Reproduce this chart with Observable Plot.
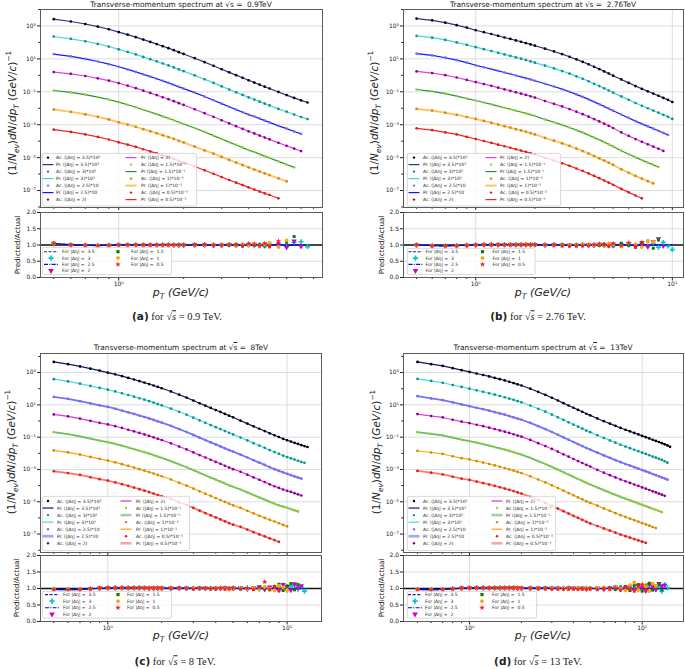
<!DOCTYPE html>
<html>
<head>
<meta charset="utf-8">
<script src="https://cdn.jsdelivr.net/npm/d3@7"></script>
<script src="https://cdn.jsdelivr.net/npm/@observablehq/plot@0.6"></script>
<style>
html,body{margin:0;padding:0;background:#fff;}
#root{position:relative;width:685px;height:669px;overflow:hidden;background:#fff;font-family:"DejaVu Sans",sans-serif;color:#222;}
.t{position:absolute;white-space:nowrap;line-height:1;}
.title{font-size:7.4px;transform:translate(-50%,0);}
.ylab{font-size:10.5px;transform:translate(-50%,-50%) rotate(-90deg);}
.rylab{font-size:7.2px;transform:translate(-50%,-50%) rotate(-90deg);}
.xlab{font-size:11px;transform:translate(-50%,-50%);font-style:italic;}
.cap{font-size:10.5px;transform:translate(-50%,-50%);font-family:"Liberation Serif","DejaVu Serif",serif;}
.cap b{font-family:"DejaVu Sans",sans-serif;font-weight:bold;}
.ov{text-decoration:overline;}
sub,sup{font-size:70%;line-height:0;}
</style>
</head>
<body>
<div id="root"></div>
<script>
// ---------- data (log10 of 1/Nev dN/dpT) ----------
const pT = [0.5,0.6,0.7,0.8,0.9,1.0,1.1,1.2,1.3,1.4,1.5,1.6,1.7,1.8,1.9,2.0,2.25,2.5,2.75,3.0,3.25,3.5,3.75,4.0,4.25,4.5,4.75,5.0,5.5,6.0,6.5,7.0,7.5,8.0,8.5,9.0,9.5,10,10.5,11,11.5,12,12.5,13,13.5,14,14.5];
const etaValues = ["3.5","3","2.5","2","1.5","1","0.5"];
const energies = ["0.9","2.76","8","13"];
const panelIds = ["a","b","c","d"];
const mainYTicks = [1e-7,1e-5,1e-3,1e-1,1e1,1e3];
const mainYMinor = [1e-8,1e-6,1e-4,1e-2,1e0,1e2,1e4];
const ratioTicks = [0,0.5,1,1.5,2];
const ratioRef = [1];
const acLabels = ["Ac. (|Δη| = 3.5)*10³","Ac. (|Δη| = 3)*10²","Ac. (|Δη| = 2.5)*10","Ac. (|Δη| = 2)","Ac (|Δη| = 1.5)*10⁻¹","Ac. (|Δη| = 1)*10⁻²","Ac. (|Δη| = 0.5)*10⁻³"];
const prLabels = ["Pr. (|Δη| = 3.5)*10³","Pr. (|Δη| = 3)*10²","Pr. (|Δη| = 2.5)*10","Pr. (|Δη| = 2)","Pr (|Δη| = 1.5)*10⁻¹","Pr. (|Δη| = 1)*10⁻²","Pr. (|Δη| = 0.5)*10⁻³"];
const ratioLabels = ["For |Δη| =  3.5","For |Δη| =  3","For |Δη| =  2.5","For |Δη| =  2","For |Δη| =  1.5","For |Δη| =  1","For |Δη| =  0.5"];

// panel (a) 0.9 TeV
const a_s35 = [3.41,3.27,3.12,2.96,2.80,2.63,2.47,2.32,2.17,2.03,1.90,1.77,1.65,1.53,1.41,1.30,1.04,0.80,0.58,0.37,0.18,0.01,-0.15,-0.30,-0.44,-0.57,-0.69,-0.80,-1.01,-1.20,-1.37,-1.52,-1.65];
const a_s3 = [2.36,2.22,2.07,1.91,1.75,1.58,1.42,1.27,1.12,0.98,0.85,0.72,0.60,0.48,0.36,0.25,0.00,-0.24,-0.46,-0.67,-0.86,-1.03,-1.19,-1.34,-1.47,-1.60,-1.72,-1.83,-2.04,-2.21,-2.38,-2.53,-2.66];
const a_s25 = [1.29,1.15,1.00,0.84,0.68,0.52,0.36,0.21,0.06,-0.08,-0.21,-0.34,-0.46,-0.58,-0.70,-0.81,-1.05,-1.29,-1.51,-1.72,-1.91,-2.08,-2.24,-2.39,-2.50,-2.63,-2.75,-2.86,-3.07,-3.24,-3.41,-3.56];
const a_s2 = [0.20,0.09,-0.04,-0.18,-0.32,-0.47,-0.63,-0.78,-0.93,-1.07,-1.20,-1.33,-1.45,-1.57,-1.69,-1.80,-2.06,-2.30,-2.52,-2.73,-2.92,-3.09,-3.25,-3.40,-3.53,-3.66,-3.78,-3.89,-4.10,-4.28,-4.45,-4.60];
const a_s15 = [-0.92,-1.04,-1.17,-1.32,-1.47,-1.63,-1.79,-1.94,-2.09,-2.23,-2.36,-2.49,-2.61,-2.73,-2.85,-2.96,-3.20,-3.44,-3.66,-3.87,-4.06,-4.23,-4.39,-4.54,-4.66,-4.79,-4.91,-5.02,-5.23,-5.42,-5.59];
const a_s1 = [-2.08,-2.22,-2.37,-2.52,-2.68,-2.85,-2.99,-3.13,-3.27,-3.40,-3.52,-3.64,-3.75,-3.86,-3.98,-4.08,-4.33,-4.56,-4.76,-4.96,-5.14,-5.30,-5.45,-5.59,-5.72,-5.85,-5.96,-6.06,-6.26,-6.44];
const a_s05 = [-3.30,-3.44,-3.59,-3.74,-3.90,-4.07,-4.21,-4.35,-4.49,-4.62,-4.74,-4.86,-4.97,-5.08,-5.19,-5.29,-5.54,-5.77,-5.98,-6.18,-6.36,-6.52,-6.67,-6.81,-6.94,-7.06,-7.17,-7.27,-7.47];
const a_r35 = [1.05,1.01,0.99,0.99,0.99,1.00,1.00,1.00,1.00,1.00,1.00,1.00,1.00,1.00,1.00,1.00,1.01,1.00,1.00,0.99,1.00,1.01,1.00,0.99,1.00,1.01,0.99,1.00,1.02,0.98,1.01,0.99,1.00];
const a_r3 = [1.04,1.00,0.99,0.98,0.99,1.00,1.00,1.01,1.00,1.00,1.00,1.00,1.00,1.00,1.00,1.00,1.00,1.01,0.99,1.00,1.01,0.99,1.00,1.02,0.98,1.01,0.97,1.03,0.99,0.96,1.08,1.10,0.95];
const a_r25 = [1.05,1.01,0.99,0.98,0.99,1.00,1.00,1.00,1.00,1.00,1.00,1.00,1.00,1.00,1.00,1.00,1.00,1.00,1.00,1.00,1.00,1.00,1.00,1.00,1.00,1.01,0.99,1.00,1.01,0.99,1.00,1.00];
const a_r2 = [1.05,1.00,0.99,0.98,0.99,1.00,1.00,1.00,1.00,1.00,1.00,1.00,1.00,1.00,1.00,1.00,1.01,1.00,0.99,1.00,1.01,1.00,0.99,1.01,1.02,0.98,1.03,0.97,1.04,0.93,1.12,0.96];
const a_r15 = [1.05,1.00,0.99,0.98,0.99,1.00,1.00,1.00,1.00,1.00,1.00,1.00,1.01,1.00,1.00,1.00,0.99,1.00,1.01,1.00,0.99,1.02,1.00,0.98,1.03,1.01,0.97,1.05,0.95,1.08,1.26];
const a_r1 = [1.05,1.00,0.99,0.98,0.99,1.00,1.00,1.00,1.00,1.00,1.00,1.00,1.00,1.00,1.00,1.01,1.00,0.99,1.01,1.00,1.02,0.98,1.03,0.99,1.04,0.97,1.02,1.06,0.94,1.14];
const a_r05 = [1.05,1.00,0.99,0.98,0.99,1.00,1.00,1.00,1.00,1.00,1.00,1.00,1.00,1.00,1.00,1.00,1.00,1.01,1.00,0.99,1.02,1.00,0.98,1.04,1.01,0.97,1.05,0.96,1.12];

// panel (b) 2.76 TeV
const b_s35 = [3.45,3.34,3.20,3.05,2.90,2.74,2.62,2.51,2.40,2.30,2.21,2.12,2.04,1.96,1.88,1.80,1.62,1.45,1.29,1.13,0.97,0.82,0.67,0.52,0.38,0.24,0.11,-0.02,-0.25,-0.46,-0.65,-0.82,-0.97,-1.11,-1.24,-1.37,-1.49,-1.62];
const b_s3 = [2.40,2.29,2.15,2.00,1.85,1.71,1.59,1.48,1.37,1.27,1.18,1.09,1.01,0.93,0.85,0.77,0.59,0.42,0.26,0.10,-0.06,-0.21,-0.36,-0.51,-0.65,-0.79,-0.92,-1.05,-1.28,-1.49,-1.68,-1.85,-2.00,-2.14,-2.27,-2.40,-2.52,-2.65];
const b_s25 = [1.32,1.21,1.07,0.92,0.77,0.61,0.49,0.38,0.27,0.17,0.08,-0.01,-0.09,-0.17,-0.25,-0.33,-0.51,-0.68,-0.84,-1.00,-1.16,-1.31,-1.46,-1.61,-1.75,-1.89,-2.02,-2.15,-2.38,-2.59,-2.78,-2.95,-3.10,-3.24,-3.37,-3.50,-3.62];
const b_s2 = [0.24,0.14,0.01,-0.13,-0.28,-0.41,-0.53,-0.64,-0.75,-0.85,-0.94,-1.03,-1.11,-1.19,-1.27,-1.35,-1.56,-1.73,-1.89,-2.05,-2.21,-2.36,-2.51,-2.66,-2.80,-2.94,-3.07,-3.20,-3.47,-3.68,-3.87,-4.04,-4.19,-4.33,-4.46,-4.59];
const b_s15 = [-0.86,-0.97,-1.11,-1.26,-1.41,-1.53,-1.65,-1.76,-1.87,-1.97,-2.06,-2.15,-2.23,-2.31,-2.39,-2.47,-2.68,-2.85,-3.01,-3.17,-3.33,-3.48,-3.63,-3.78,-3.92,-4.06,-4.19,-4.32,-4.58,-4.79,-4.98,-5.15,-5.30,-5.44,-5.57];
const b_s1 = [-2.04,-2.14,-2.27,-2.40,-2.53,-2.65,-2.77,-2.88,-2.99,-3.09,-3.18,-3.27,-3.35,-3.43,-3.51,-3.59,-3.80,-3.97,-4.13,-4.29,-4.45,-4.60,-4.75,-4.90,-5.04,-5.18,-5.31,-5.44,-5.71,-5.92,-6.11,-6.28,-6.43,-6.57];
const b_s05 = [-3.22,-3.33,-3.47,-3.59,-3.74,-3.87,-3.99,-4.10,-4.21,-4.31,-4.40,-4.49,-4.57,-4.65,-4.73,-4.81,-5.01,-5.18,-5.34,-5.50,-5.66,-5.81,-5.96,-6.11,-6.25,-6.39,-6.52,-6.65,-6.90,-7.11,-7.30,-7.47];
const b_r35 = [1.00,0.98,0.97,0.98,0.99,1.00,1.00,1.01,1.01,1.01,1.01,1.01,1.01,1.01,1.01,1.01,1.01,1.01,1.00,1.00,1.00,1.00,0.99,1.00,1.00,1.01,1.00,1.00,0.99,1.01,1.00,0.99,1.01,1.00,0.99,1.01,1.00,0.99];
const b_r3 = [1.00,0.98,0.97,0.98,0.99,1.00,1.01,1.01,1.01,1.01,1.01,1.01,1.01,1.01,1.01,1.01,1.00,1.01,1.00,0.99,1.00,1.01,0.99,1.00,1.02,0.99,1.01,0.98,1.03,1.00,0.97,1.04,0.96,1.05,0.93,1.08,0.97,0.86];
const b_r25 = [1.00,0.98,0.97,0.98,0.99,1.00,1.00,1.01,1.01,1.01,1.01,1.01,1.01,1.01,1.01,1.01,1.01,1.00,1.00,1.00,1.00,1.00,1.00,1.00,1.00,1.00,1.00,1.00,1.01,0.99,1.00,1.01,0.99,1.00,1.01,0.99,1.00];
const b_r2 = [1.00,0.98,0.97,0.98,0.99,1.00,1.01,1.01,1.01,1.01,1.01,1.01,1.01,1.01,1.01,1.01,1.00,1.01,1.00,1.00,0.99,1.00,1.01,0.99,1.02,1.00,0.98,1.03,0.99,1.04,0.96,1.06,0.95,1.10,1.19,0.97];
const b_r15 = [1.00,0.98,0.97,0.98,0.99,1.00,1.01,1.01,1.01,1.01,1.01,1.01,1.01,1.01,1.01,1.01,1.00,1.00,1.01,0.99,1.00,0.99,1.01,1.00,0.98,1.03,1.01,0.97,1.05,0.99,0.94,1.08,1.12,0.90,1.16];
const b_r1 = [1.00,0.98,0.97,0.98,0.99,1.00,1.01,1.01,1.01,1.01,1.01,1.01,1.01,1.01,1.01,1.01,1.00,1.00,0.99,1.00,0.98,1.01,1.02,0.99,1.03,0.97,1.04,1.01,0.96,1.07,1.03,0.93,1.11,1.09];
const b_r05 = [1.00,0.98,0.97,0.98,0.99,1.00,1.01,1.01,1.01,1.01,1.01,1.01,1.01,1.01,1.01,1.01,1.00,0.99,0.98,0.97,0.97,0.98,0.99,1.01,1.03,1.00,0.97,1.04,0.98,1.06,0.95,1.08];

// panel (c) 8 TeV
const c_s35 = [3.66,3.52,3.38,3.24,3.12,3.00,2.89,2.78,2.67,2.57,2.47,2.38,2.29,2.20,2.11,2.03,1.83,1.63,1.45,1.27,1.10,0.95,0.81,0.68,0.56,0.44,0.33,0.23,0.02,-0.16,-0.33,-0.48,-0.62,-0.76,-0.88,-0.99,-1.10,-1.19,-1.27,-1.35,-1.42,-1.49,-1.55,-1.61];
const c_s3 = [2.59,2.45,2.31,2.17,2.05,1.94,1.83,1.72,1.61,1.51,1.41,1.32,1.23,1.14,1.05,0.97,0.77,0.57,0.39,0.21,0.04,-0.11,-0.25,-0.38,-0.50,-0.62,-0.73,-0.83,-1.02,-1.20,-1.37,-1.52,-1.66,-1.80,-1.92,-2.03,-2.14,-2.23,-2.31,-2.39,-2.46,-2.53,-2.59];
const c_s25 = [1.49,1.37,1.23,1.09,0.97,0.87,0.76,0.65,0.54,0.44,0.34,0.25,0.16,0.07,-0.02,-0.10,-0.30,-0.50,-0.68,-0.86,-1.03,-1.18,-1.32,-1.45,-1.57,-1.69,-1.80,-1.90,-2.08,-2.26,-2.43,-2.58,-2.72,-2.86,-2.98,-3.09,-3.18,-3.27,-3.35,-3.43,-3.50,-3.57];
const c_s2 = [0.41,0.29,0.15,0.01,-0.11,-0.21,-0.32,-0.43,-0.54,-0.64,-0.74,-0.83,-0.92,-1.01,-1.10,-1.18,-1.38,-1.58,-1.76,-1.94,-2.11,-2.26,-2.40,-2.53,-2.65,-2.77,-2.88,-2.98,-3.14,-3.32,-3.49,-3.64,-3.78,-3.92,-4.04,-4.14,-4.24,-4.32,-4.39,-4.47,-4.54,-4.61];
const c_s15 = [-0.69,-0.81,-0.95,-1.09,-1.21,-1.31,-1.42,-1.53,-1.64,-1.74,-1.84,-1.93,-2.02,-2.11,-2.20,-2.28,-2.48,-2.68,-2.86,-3.04,-3.21,-3.36,-3.50,-3.63,-3.75,-3.87,-3.98,-4.08,-4.24,-4.42,-4.58,-4.73,-4.87,-5.01,-5.12,-5.22,-5.30,-5.37,-5.45,-5.53,-5.60];
const c_s1 = [-1.82,-1.94,-2.08,-2.22,-2.34,-2.45,-2.56,-2.67,-2.78,-2.88,-2.98,-3.07,-3.16,-3.25,-3.34,-3.42,-3.62,-3.82,-4.00,-4.18,-4.35,-4.50,-4.64,-4.77,-4.89,-5.01,-5.12,-5.22,-5.38,-5.56,-5.72,-5.87,-6.00,-6.12,-6.22,-6.33,-6.43,-6.52];
const c_s05 = [-3.11,-3.22,-3.34,-3.48,-3.60,-3.69,-3.80,-3.91,-4.02,-4.12,-4.22,-4.31,-4.40,-4.49,-4.58,-4.66,-4.82,-5.02,-5.20,-5.38,-5.55,-5.70,-5.84,-5.97,-6.09,-6.21,-6.32,-6.42,-6.55,-6.72,-6.88,-7.02,-7.14,-7.26,-7.37,-7.48];
const c_r35 = [0.97,0.96,0.97,0.99,1.01,1.02,1.02,1.02,1.02,1.02,1.02,1.02,1.01,1.01,1.01,1.01,1.01,1.01,1.01,1.01,1.01,1.01,1.01,1.01,1.01,1.00,1.01,1.00,1.01,1.00,1.00,1.01,1.00,1.00,0.99,1.01,1.00,1.00,0.99,1.01,1.00,1.00,0.99,1.00];
const c_r3 = [0.97,0.96,0.97,0.99,1.01,1.02,1.02,1.02,1.02,1.02,1.02,1.02,1.01,1.01,1.01,1.01,1.01,1.01,1.01,1.01,1.01,1.00,1.01,1.00,1.01,1.01,1.00,1.01,0.99,1.02,1.00,0.98,1.03,1.01,0.97,1.05,1.00,0.95,1.07,1.10,0.98,1.04,0.92];
const c_r25 = [0.97,0.96,0.97,0.99,1.01,1.02,1.02,1.02,1.02,1.02,1.02,1.02,1.01,1.01,1.01,1.01,1.01,1.01,1.01,1.01,1.01,1.01,1.01,1.01,1.01,1.00,1.01,1.00,1.01,1.00,1.00,1.01,1.00,1.00,0.99,1.01,1.00,1.00,0.99,1.01,1.00,1.00];
const c_r2 = [0.97,0.96,0.97,0.99,1.01,1.02,1.02,1.02,1.02,1.02,1.02,1.02,1.01,1.01,1.01,1.01,1.01,1.01,1.01,1.00,1.01,1.01,1.00,1.01,1.00,1.02,0.99,1.01,1.03,0.98,1.02,1.05,0.97,1.04,1.00,0.94,1.12,1.06,0.95,1.14,1.02,1.08];
const c_r15 = [0.97,0.96,0.97,0.99,1.01,1.02,1.02,1.02,1.02,1.02,1.02,1.02,1.01,1.01,1.01,1.01,1.01,1.01,1.00,1.01,1.01,1.00,1.01,0.99,1.01,1.02,1.00,0.99,1.02,1.00,0.97,1.04,1.01,0.96,1.06,1.13,0.94,1.08,1.15,0.96,1.12];
const c_r1 = [0.97,0.96,0.97,0.99,1.01,1.02,1.02,1.02,1.02,1.02,1.02,1.02,1.01,1.01,1.01,1.01,1.01,1.00,1.01,1.01,1.00,1.01,0.99,1.01,1.02,1.00,0.98,1.01,1.03,0.99,1.02,0.97,1.05,1.00,0.94,1.08,1.03,0.95];
const c_r05 = [0.97,0.96,0.97,0.99,1.01,1.02,1.02,1.02,1.02,1.02,1.02,1.01,1.01,1.01,1.01,1.01,1.00,1.01,1.00,0.99,1.00,1.01,0.99,1.00,1.01,0.98,1.00,1.02,0.99,1.01,0.97,1.03,1.20,0.98,1.06,0.96];

// panel (d) 13 TeV
const d_s35 = [3.66,3.52,3.41,3.27,3.15,3.04,2.94,2.85,2.76,2.67,2.59,2.51,2.43,2.35,2.27,2.20,2.00,1.80,1.62,1.44,1.27,1.11,0.96,0.82,0.69,0.57,0.45,0.35,0.16,-0.01,-0.16,-0.30,-0.43,-0.54,-0.64,-0.74,-0.83,-0.92,-1.00,-1.08,-1.16,-1.23,-1.30,-1.37,-1.44,-1.51,-1.60];
const d_s3 = [2.61,2.48,2.37,2.23,2.11,2.00,1.90,1.81,1.72,1.63,1.55,1.47,1.39,1.31,1.23,1.16,0.96,0.76,0.58,0.40,0.23,0.07,-0.08,-0.22,-0.35,-0.47,-0.59,-0.69,-0.88,-1.05,-1.20,-1.34,-1.47,-1.58,-1.68,-1.78,-1.87,-1.96,-2.04,-2.12,-2.20,-2.27,-2.34,-2.41,-2.49,-2.58];
const d_s25 = [1.54,1.40,1.29,1.15,1.03,0.92,0.82,0.73,0.64,0.55,0.47,0.39,0.31,0.23,0.15,0.08,-0.12,-0.32,-0.50,-0.68,-0.85,-1.01,-1.16,-1.30,-1.43,-1.55,-1.67,-1.77,-1.96,-2.13,-2.28,-2.42,-2.55,-2.66,-2.76,-2.86,-2.95,-3.04,-3.12,-3.20,-3.28,-3.35,-3.42,-3.49,-3.56,-3.63];
const d_s2 = [0.43,0.31,0.22,0.08,-0.04,-0.13,-0.23,-0.32,-0.41,-0.50,-0.58,-0.66,-0.74,-0.82,-0.90,-0.97,-1.17,-1.37,-1.55,-1.73,-1.90,-2.06,-2.21,-2.35,-2.48,-2.60,-2.72,-2.82,-3.03,-3.20,-3.35,-3.49,-3.62,-3.73,-3.83,-3.93,-4.02,-4.11,-4.19,-4.27,-4.35,-4.42,-4.49,-4.56,-4.63];
const d_s15 = [-0.69,-0.80,-0.89,-1.03,-1.15,-1.24,-1.34,-1.43,-1.52,-1.61,-1.69,-1.77,-1.85,-1.93,-2.01,-2.08,-2.28,-2.48,-2.66,-2.84,-3.01,-3.17,-3.32,-3.46,-3.59,-3.71,-3.83,-3.93,-4.11,-4.28,-4.43,-4.57,-4.70,-4.81,-4.91,-5.01,-5.10,-5.19,-5.27,-5.35,-5.43,-5.50,-5.57,-5.64];
const d_s1 = [-1.84,-1.95,-2.04,-2.18,-2.30,-2.38,-2.48,-2.57,-2.66,-2.75,-2.83,-2.91,-2.99,-3.07,-3.15,-3.22,-3.42,-3.62,-3.80,-3.98,-4.15,-4.31,-4.46,-4.60,-4.73,-4.85,-4.97,-5.07,-5.24,-5.41,-5.56,-5.70,-5.83,-5.94,-6.04,-6.14,-6.23,-6.32,-6.40,-6.48,-6.56,-6.63];
const d_s05 = [-3.09,-3.20,-3.31,-3.45,-3.57,-3.65,-3.75,-3.84,-3.93,-4.02,-4.10,-4.18,-4.26,-4.34,-4.42,-4.49,-4.69,-4.89,-5.07,-5.25,-5.42,-5.58,-5.73,-5.87,-6.00,-6.12,-6.24,-6.34,-6.50,-6.65,-6.78,-6.91,-7.03,-7.13,-7.22,-7.31,-7.39,-7.47,-7.54];
const d_r35 = [0.97,0.96,0.97,0.99,1.01,1.02,1.02,1.02,1.02,1.02,1.02,1.02,1.02,1.02,1.01,1.01,1.01,1.01,1.01,1.01,1.01,1.01,1.01,1.01,1.01,1.00,1.01,1.00,1.00,1.00,1.00,1.01,1.00,0.99,1.00,1.01,1.00,0.99,1.00,1.01,1.00,0.99,1.00,1.01,1.00,0.99,1.00];
const d_r3 = [0.97,0.96,0.97,0.99,1.01,1.02,1.02,1.02,1.02,1.02,1.02,1.02,1.02,1.02,1.01,1.01,1.01,1.01,1.01,1.01,1.01,1.01,1.01,1.00,1.01,1.00,1.01,1.00,0.99,1.00,1.01,0.99,1.02,0.98,1.03,1.00,0.96,1.05,1.08,0.95,1.10,0.97,1.04,0.92,1.12,1.02];
const d_r25 = [0.97,0.96,0.97,0.99,1.01,1.02,1.02,1.02,1.02,1.02,1.02,1.02,1.02,1.02,1.01,1.01,1.01,1.01,1.01,1.01,1.01,1.01,1.01,1.01,1.01,1.00,1.01,1.00,1.00,1.00,1.00,1.01,1.00,0.99,1.00,1.01,1.00,0.99,1.00,1.01,1.00,0.99,1.00,1.01,1.00,0.99];
const d_r2 = [0.97,0.96,0.97,0.99,1.01,1.02,1.02,1.02,1.02,1.02,1.02,1.02,1.02,1.02,1.01,1.01,1.01,1.01,1.01,1.01,1.01,1.00,1.01,1.01,1.00,1.01,0.99,1.00,1.01,0.98,1.02,1.04,0.97,1.01,1.06,0.95,1.09,1.03,0.93,1.12,1.05,0.97,1.15,1.08,1.10];
const d_r15 = [0.97,0.96,0.97,0.99,1.01,1.02,1.02,1.02,1.02,1.02,1.02,1.02,1.02,1.02,1.01,1.01,1.01,1.01,1.01,1.01,1.00,1.01,1.01,1.00,1.01,0.99,1.00,1.01,0.98,1.02,1.00,0.97,1.04,1.06,0.94,1.09,1.12,0.92,1.08,1.16,0.95,1.05,1.13,0.96];
const d_r1 = [0.97,0.96,0.97,0.99,1.01,1.02,1.02,1.02,1.02,1.02,1.02,1.02,1.02,1.01,1.01,1.01,1.01,1.01,1.00,1.01,1.00,1.01,0.99,1.00,1.01,0.99,1.00,0.98,1.01,1.03,0.97,1.05,1.00,0.94,1.10,1.18,0.96,1.12,1.06,0.93,1.15,1.08];
const d_r05 = [0.97,0.96,0.97,0.99,1.01,1.02,1.02,1.02,1.02,1.02,1.02,1.02,1.02,1.01,1.01,1.01,1.01,1.00,1.00,0.99,0.99,0.99,0.98,0.99,0.98,0.99,0.98,0.99,0.97,1.00,0.98,1.02,0.96,1.04,0.99,0.93,1.07,1.12,0.95];

const spectraByPanel = {a:[a_s35,a_s3,a_s25,a_s2,a_s15,a_s1,a_s05], b:[b_s35,b_s3,b_s25,b_s2,b_s15,b_s1,b_s05], c:[c_s35,c_s3,c_s25,c_s2,c_s15,c_s1,c_s05], d:[d_s35,d_s3,d_s25,d_s2,d_s15,d_s1,d_s05]};
const ratiosByPanel = {a:[a_r35,a_r3,a_r25,a_r2,a_r15,a_r1,a_r05], b:[b_r35,b_r3,b_r25,b_r2,b_r15,b_r1,b_r05], c:[c_r35,c_r3,c_r25,c_r2,c_r15,c_r1,c_r05], d:[d_r35,d_r3,d_r25,d_r2,d_r15,d_r1,d_r05]};

// ---------- layout & styles ----------
const LAY = {
  a:{main:[40,9,322,207], ratio:[40,212,322,277], xd:[0.434,8.8], yd:[10**-8.03,1e4], title:[181,1.0], ylab:[12,113], rylab:[18,244.5], xlab:[181,291.5], cap:[177,316.5],
     leg:{box:[42,153,197,206.5], h1:48, t1:56, h2:131, t2:141, y0:157.6, dy:7.0},
     rleg:{box:[42,246.5,172,274.5], h1:51, t1:62, h2:118, t2:131, y0:251.2, dy:6.35}},
  b:{main:[403,9,683,207], ratio:[403,212,683,277], xd:[0.429,11.4], yd:[10**-8.03,1e4], title:[543,1.0], ylab:[374,113], rylab:[381.5,244.5], xlab:[543,291.5], cap:[538,316.5],
     leg:{box:[407,153,561,206.5], h1:414, t1:423, h2:491, t2:500, y0:157.6, dy:7.0},
     rleg:{box:[406.5,247.5,535,274.5], h1:415, t1:425, h2:482, t2:492, y0:251.2, dy:6.35}},
  c:{main:[40,353,321,552], ratio:[40,555,321,621], xd:[0.4215,15.55], yd:[10**-8.14,10**4.18], title:[181,343.5], ylab:[11,452], rylab:[17,588], xlab:[181,635], cap:[175,661.5],
     leg:{box:[42,495.5,190,550.5], h1:48, t1:57, h2:126, t2:136, y0:500.5, dy:7.05},
     rleg:{box:[42,591,172,618.5], h1:52, t1:63, h2:118, t2:127, y0:594.6, dy:6.55}},
  d:{main:[403,353,683,552], ratio:[403,555,683,621], xd:[0.415,17.35], yd:[10**-8.14,10**4.18], title:[543,343.5], ylab:[376,452], rylab:[381.5,588], xlab:[543,635], cap:[538,661.5],
     leg:{box:[407,495.5,556,550.5], h1:414, t1:423, h2:497, t2:506, y0:500.5, dy:7.05},
     rleg:{box:[407,591,537,618.5], h1:415, t1:425, h2:482, t2:492, y0:594.6, dy:6.55}}
};
const AC_COL = ["#000000","#0e8f8f","#7b6cf0","#880088","#9acd32","#c98b0c","#d42020"];
const PR_STYLE = {
  ab:{c:["#2e2e8e","#3fd8d2","#1414ff","#e040e0","#22942a","#ffc466","#ff1f1f"], w:[1.2,1.2,1.2,1.2,1.2,2.0,1.2], o:[1,1,1,1,1,1,1]},
  cd:{c:["#141470","#40e0d0","#5a5aff","#dd33dd","#4caf50","#ffa500","#ff5a5a"], w:[1.2,1.2,1.8,1.2,1.8,1.2,1.8], o:[1,1,0.85,1,0.85,1,0.85]},
  legcd:{w:[1.2,1.2,2.6,1.2,2.6,1.2,2.6], o:[1,1,0.55,1,0.55,1,0.55]}
};
const R_STYLE = [
  {type:"line", c:"#1c1ca0", dash:"3,1.6"},
  {type:"dot", c:"#00c8d2", sym:"cross", r:2.1},
  {type:"line", c:"#0000ff", dash:"4,1.3,1,1.3"},
  {type:"dot", c:"#cc00cc", sym:"triangle", r:2.0, rot:180},
  {type:"dot", c:"#008000", sym:"square", r:1.7},
  {type:"dot", c:"#ffa500", sym:"hexagon", r:1.8},
  {type:"dot", c:"#ff1a1a", sym:"star", r:1.7}
];
const GRID = "#d9d9d9", FRAME = "#5c5c5c", FONT = "DejaVu Sans";
const SUP = {"0":"⁰","1":"¹","2":"²","3":"³","4":"⁴","5":"⁵","6":"⁶","7":"⁷","8":"⁸","9":"⁹","-":"⁻"};
const sup10 = v => "10" + String(Math.round(Math.log10(v))).split("").map(c => SUP[c]).join("");
function decadeTicks(dom, mults){ const out=[]; for(let e=-2;e<=3;e++) for(const m of mults){ const v=+(m*10**e).toPrecision(6); if(v>=dom[0]&&v<=dom[1]) out.push(v);} return out; }
const majorsX = d => decadeTicks(d,[1]);
const minorsX = d => decadeTicks(d,[2,3,4,5,6,7,8,9]);

const root = document.getElementById("root");
function place(el, x, y){ el.style.position="absolute"; el.style.left=x+"px"; el.style.top=y+"px"; root.append(el); }
function addText(cls, x, y, html){ const d=document.createElement("div"); d.className="t "+cls; d.innerHTML=html; place(d,x,y); }
const plotStyle = {fontFamily: FONT, fontSize: "6px", color: "#222", background: "transparent", overflow: "visible"};

function drawMain(id){
  const L = LAY[id], st = (id==="a"||id==="b") ? PR_STYLE.ab : PR_STYLE.cd;
  const [x0,y0,x1,y1] = L.main, mL=40, mR=4, mT=4, mB=5;
  const marks = [
    Plot.gridX({ticks: majorsX(L.xd), stroke: GRID, strokeOpacity: 1, strokeWidth: 0.9}),
    Plot.gridY({ticks: mainYTicks, stroke: GRID, strokeOpacity: 1, strokeWidth: 0.9}),
    Plot.axisY({ticks: mainYTicks, tickFormat: sup10, tickSize: 3, tickPadding: 1.5, fontSize: 6, label: null}),
    Plot.axisY({ticks: mainYMinor.filter(v => v>=L.yd[0] && v<=L.yd[1]), tickFormat: () => "", tickSize: 1.8, label: null}),
    Plot.axisX({ticks: majorsX(L.xd), tickFormat: () => "", tickSize: 3, label: null}),
    Plot.axisX({ticks: minorsX(L.xd), tickFormat: () => "", tickSize: 1.8, label: null})
  ];
  spectraByPanel[id].forEach((vals, k) => {
    const rows = vals.map((v, i) => ({x: pT[i], y: 10 ** v}));
    marks.push(Plot.line(rows, {x: "x", y: "y", stroke: st.c[k], strokeWidth: st.w[k], strokeOpacity: st.o[k]}));
    marks.push(Plot.dot(rows, {x: "x", y: "y", r: 1.35, fill: AC_COL[k], stroke: "none"}));
  });
  marks.push(Plot.frame({stroke: FRAME, strokeWidth: 1}));
  const svg = Plot.plot({width: x1-x0+mL+mR, height: y1-y0+mT+mB, marginLeft: mL, marginRight: mR, marginTop: mT, marginBottom: mB,
    x: {type: "log", domain: L.xd, label: null}, y: {type: "log", domain: L.yd, label: null}, style: plotStyle, marks});
  place(svg, x0-mL, y0-mT);
}

function drawRatio(id){
  const L = LAY[id];
  const [x0,y0,x1,y1] = L.ratio, mL=40, mR=4, mT=4, mB=14;
  const marks = [
    Plot.gridX({ticks: majorsX(L.xd), stroke: GRID, strokeOpacity: 1, strokeWidth: 0.9}),
    Plot.gridY({ticks: ratioTicks, stroke: GRID, strokeOpacity: 1, strokeWidth: 0.9}),
    Plot.axisY({ticks: ratioTicks, tickFormat: d => d.toFixed(1), tickSize: 3, tickPadding: 1.5, fontSize: 6, label: null}),
    Plot.axisX({ticks: majorsX(L.xd), tickFormat: sup10, tickSize: 3.5, tickPadding: 0.5, fontSize: 6, label: null}),
    Plot.axisX({ticks: minorsX(L.xd), tickFormat: () => "", tickSize: 2, label: null}),
    Plot.ruleY(ratioRef, {stroke: "#111", strokeWidth: 1.3})
  ];
  ratiosByPanel[id].forEach((vals, k) => {
    const rows = vals.map((v, i) => ({x: pT[i], y: v}));
    const s = R_STYLE[k];
    if (s.type === "line") marks.push(Plot.line(rows, {x: "x", y: "y", stroke: s.c, strokeWidth: 1.1, strokeDasharray: s.dash}));
    else marks.push(Plot.dot(rows, {x: "x", y: "y", symbol: s.sym, r: s.r, fill: s.c, stroke: "none", rotate: s.rot || 0}));
  });
  marks.push(Plot.frame({stroke: FRAME, strokeWidth: 1}));
  const svg = Plot.plot({width: x1-x0+mL+mR, height: y1-y0+mT+mB, marginLeft: mL, marginRight: mR, marginTop: mT, marginBottom: mB,
    x: {type: "log", domain: L.xd, label: null}, y: {type: "linear", domain: [0, 2], label: null}, style: plotStyle, marks});
  place(svg, x0-mL, y0-mT);
}

function legendBox(box){
  const [bx0,by0,bx1,by1] = box;
  const svg = d3.create("svg").attr("width", bx1-bx0).attr("height", by1-by0).style("overflow","visible");
  svg.append("rect").attr("x",0.4).attr("y",0.4).attr("width",bx1-bx0-0.8).attr("height",by1-by0-0.8).attr("rx",1.5)
     .attr("fill","#fff").attr("fill-opacity",0.8).attr("stroke","#cccccc").attr("stroke-width",0.7);
  return svg;
}
function legText(svg, x, y, txt){
  svg.append("text").attr("x",x).attr("y",y).attr("dy","0.34em").attr("font-size",4.5).attr("font-family",FONT)
     .attr("fill","#222").style("white-space","pre").text(txt);
}
function drawLegend(id){
  const L = LAY[id], lg = L.leg, ab = (id==="a"||id==="b");
  const st = ab ? PR_STYLE.ab : {c: PR_STYLE.cd.c, w: PR_STYLE.legcd.w, o: PR_STYLE.legcd.o};
  const [bx0,by0] = lg.box;
  const svg = legendBox(lg.box);
  const entries = [];
  for (let k = 0; k < 7; k++){ entries.push({kind:"ac", k}); entries.push({kind:"pr", k}); }
  entries.forEach((e, j) => {
    const col = j < 7 ? 0 : 1, row = j % 7;
    const hx = (col ? lg.h2 : lg.h1) - bx0, tx = (col ? lg.t2 : lg.t1) - bx0, y = lg.y0 + row*lg.dy - by0;
    if (e.kind === "ac") svg.append("circle").attr("cx",hx).attr("cy",y).attr("r",1.2).attr("fill",AC_COL[e.k]);
    else svg.append("line").attr("x1",hx-5.5).attr("x2",hx+5.5).attr("y1",y).attr("y2",y).attr("stroke",st.c[e.k]).attr("stroke-width",st.w[e.k]).attr("stroke-opacity",st.o[e.k]);
    legText(svg, tx, y, e.kind === "ac" ? acLabels[e.k] : prLabels[e.k]);
  });
  place(svg.node(), bx0, by0);
}
function hexPath(r){ return d3.range(6).map(i => { const a = Math.PI/3*i + Math.PI/6; return [r*Math.cos(a), r*Math.sin(a)]; }).map((p,i)=>(i?"L":"M")+p[0].toFixed(2)+","+p[1].toFixed(2)).join("")+"Z"; }
function drawRatioLegend(id){
  const L = LAY[id], lg = L.rleg;
  const [bx0,by0] = lg.box;
  const svg = legendBox(lg.box);
  R_STYLE.forEach((s, k) => {
    const col = k < 4 ? 0 : 1, row = k < 4 ? k : k-4;
    const hx = (col ? lg.h2 : lg.h1) - bx0, tx = (col ? lg.t2 : lg.t1) - bx0, y = lg.y0 + row*lg.dy - by0;
    if (s.type === "line") svg.append("line").attr("x1",hx-7).attr("x2",hx+7).attr("y1",y).attr("y2",y).attr("stroke",s.c).attr("stroke-width",1.1).attr("stroke-dasharray",s.dash);
    else {
      let d;
      if (s.sym === "hexagon") d = hexPath(2.0);
      else { const t = {cross:d3.symbolCross, triangle:d3.symbolTriangle, square:d3.symbolSquare, star:d3.symbolStar}[s.sym]; d = d3.symbol(t, Math.PI*s.r*s.r*1.1)(); }
      svg.append("path").attr("d",d).attr("fill",s.c).attr("transform",`translate(${hx},${y}) rotate(${s.rot||0})`);
    }
    legText(svg, tx, y, ratioLabels[k]);
  });
  place(svg.node(), bx0, by0);
}

panelIds.forEach((id, p) => {
  const L = LAY[id];
  drawMain(id);
  drawRatio(id);
  drawLegend(id);
  drawRatioLegend(id);
  addText("title", L.title[0], L.title[1], `Transverse-momentum spectrum at √<span class="ov">s</span> =&nbsp; ${energies[p]}TeV`);
  addText("ylab", L.ylab[0], L.ylab[1], `(1/<i>N</i><sub><i>ev</i></sub>)<i>dN</i>/<i>dp</i><sub><i>T</i></sub> (<i>GeV</i>/<i>c</i>)<sup>−1</sup>`);
  addText("rylab", L.rylab[0], L.rylab[1], "Predicted/Actual");
  addText("xlab", L.xlab[0], L.xlab[1], `p<sub>T</sub> (GeV/c)`);
  addText("cap", L.cap[0], L.cap[1], `<b>(${id})</b> for √<span class="ov"><i>s</i></span> = ${energies[p]} TeV.`);
});
</script>
</body>
</html>
